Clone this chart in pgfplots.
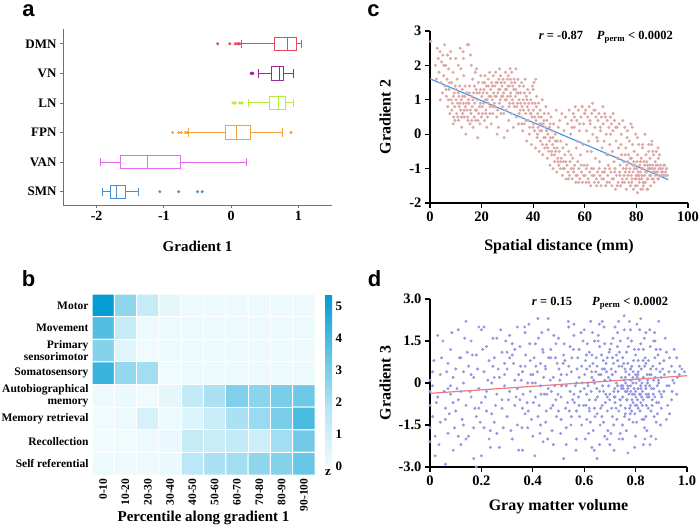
\documentclass[border=0pt]{standalone}
\usepackage{fontspec}
\setmainfont{Liberation Serif}
\newfontfamily\lettersf{Liberation Sans}
\usepackage{pgfplots}
\pgfplotsset{compat=1.18}
\usepgfplotslibrary{statistics}
\definecolor{cDMN}{HTML}{E8475F}
\definecolor{cVN}{HTML}{9A2B9A}
\definecolor{cLN}{HTML}{B5EE3A}
\definecolor{cFPN}{HTML}{F5A03C}
\definecolor{cVAN}{HTML}{E26BF0}
\definecolor{cSMN}{HTML}{4A8FCC}
\definecolor{axgray}{HTML}{707070}
\definecolor{ptC}{RGB}{220,168,168}
\definecolor{lnC}{RGB}{72,152,235}
\definecolor{ptD}{RGB}{150,150,225}
\definecolor{lnD}{RGB}{245,120,120}
\newcommand{\fs}[1]{\bfseries\fontsize{#1}{#1}\selectfont}
\pgfplotstableread{
x y c
0 0 5.3
1 0 2.6
2 0 1.3
3 0 0.3
4 0 0.1
5 0 0.1
6 0 0.1
7 0 0.1
8 0 0.1
9 0 0.1
0 1 3.8
1 1 1.3
2 1 0.1
3 1 0.1
4 1 0.1
5 1 0.1
6 1 0.1
7 1 0.1
8 1 0.1
9 1 0.1
0 2 2.8
1 2 0.5
2 2 0.0
3 2 0.1
4 2 0.1
5 2 0.1
6 2 0.1
7 2 0.1
8 2 0.1
9 2 0.1
0 3 4.3
1 3 2.5
2 3 2.2
3 3 0.0
4 3 0.1
5 3 0.1
6 3 0.1
7 3 0.1
8 3 0.1
9 3 0.1
0 4 0.1
1 4 0.2
2 4 0.0
3 4 0.3
4 4 1.4
5 4 2.0
6 4 2.9
7 4 2.7
8 4 3.0
9 4 3.3
0 5 0.0
1 5 0.1
2 5 0.8
3 5 0.1
4 5 0.6
5 5 1.2
6 5 2.0
7 5 2.4
8 5 3.0
9 5 4.0
0 6 0.0
1 6 0.0
2 6 0.1
3 6 0.2
4 6 1.3
5 6 1.2
6 6 1.4
7 6 1.1
8 6 2.2
9 6 3.2
0 7 0.1
1 7 0.1
2 7 0.1
3 7 0.2
4 7 1.6
5 7 2.0
6 7 2.2
7 7 2.6
8 7 2.8
9 7 3.4
}\heatdata
\begin{document}
\begin{tikzpicture}
\useasboundingbox (0pt,0pt) rectangle (700pt,530pt);
\pgfplotsset{every axis/.append style={scale only axis, /pgf/number format/assume math mode=true}}
% ---------- panel a ----------
\begin{axis}[at={(63pt,325pt)}, anchor=south west, width=269pt, height=176pt,
  xmin=-2.5, xmax=1.5, ymin=0.55, ymax=6.5,
  axis x line*=bottom, axis y line*=left,
  axis line style={-, draw=axgray, line width=0.8pt},
  tick align=outside, major tick length=3pt, tick style={axgray, line width=0.8pt},
  xtick={-2,-1,0,1}, ytick={1,2,3,4,5,6}, yticklabels={SMN,VAN,FPN,LN,VN,DMN},
  xticklabel style={font=\fs{14}}, yticklabel style={font=\fs{13}},
  xlabel={Gradient 1}, xlabel style={font=\fs{15}, at={(axis description cs:0.5,-0.233)}, anchor=center},
  boxplot/draw direction=x, boxplot/box extend=0.45, boxplot/whisker extend=0.28]
\addplot[cDMN, line width=0.9pt, boxplot prepared={draw position=6, lower whisker=0.15, lower quartile=0.64, median=0.84, upper quartile=0.97, upper whisker=1.05}] coordinates {};
\addplot[cVN, line width=0.9pt, boxplot prepared={draw position=5, lower whisker=0.40, lower quartile=0.60, median=0.72, upper quartile=0.78, upper whisker=0.92}] coordinates {};
\addplot[cLN, line width=0.9pt, boxplot prepared={draw position=4, lower whisker=0.26, lower quartile=0.57, median=0.71, upper quartile=0.81, upper whisker=0.93}] coordinates {};
\addplot[cFPN, line width=0.9pt, boxplot prepared={draw position=3, lower whisker=-0.63, lower quartile=-0.08, median=0.08, upper quartile=0.28, upper whisker=0.77}] coordinates {};
\addplot[cVAN, line width=0.9pt, boxplot prepared={draw position=2, lower whisker=-1.94, lower quartile=-1.64, median=-1.25, upper quartile=-0.75, upper whisker=0.23}] coordinates {};
\addplot[cSMN, line width=0.9pt, boxplot prepared={draw position=1, lower whisker=-1.92, lower quartile=-1.80, median=-1.70, upper quartile=-1.57, upper whisker=-1.38}] coordinates {};
\addplot[only marks, mark=*, mark size=1.3pt, cDMN] coordinates {(-0.20,6) (-0.02,6) (0.06,6) (0.09,6) (0.11,6) (0.13,6)};
\addplot[only marks, mark=*, mark size=1.5pt, cVN] coordinates {(0.30,5) (0.32,5)};
\addplot[only marks, mark=*, mark size=1.5pt, cLN] coordinates {(0.03,4) (0.06,4) (0.13,4) (0.16,4)};
\addplot[only marks, mark=*, mark size=1.3pt, cFPN] coordinates {(-0.87,3) (-0.78,3) (-0.74,3) (-0.68,3) (-0.65,3) (0.89,3)};
\addplot[only marks, mark=*, mark size=1.3pt, cSMN] coordinates {(-1.06,1) (-0.78,1) (-0.50,1) (-0.43,1)};
\end{axis}
% ---------- panel b ----------
\begin{axis}[at={(92pt,55pt)}, anchor=south west, width=223pt, height=181pt, clip=false,
  enlargelimits=false, xmin=-0.5, xmax=9.5, ymin=-0.5, ymax=7.5, y dir=reverse,
  axis line style={draw=none}, tick style={draw=none}, major tick length=0pt,
  xtick={0,...,9}, xticklabels={0-10,10-20,20-30,30-40,40-50,50-60,60-70,70-80,80-90,90-100},
  xticklabel style={rotate=90, anchor=east, font=\fs{11.5}},
  ytick={0,...,7}, yticklabels={Motor,Movement,{Primary\\sensorimotor},Somatosensory,{Autobiographical\\memory},Memory retrieval,Recollection,Self referential},
  yticklabel style={align=right, font=\fs{11.5}},
  xlabel={Percentile along gradient 1}, xlabel style={font=\fs{15}, at={(axis description cs:0.5,-0.238)}, anchor=center},
  colormap={heat}{rgb255=(240,251,254) rgb255=(181,229,245) rgb255=(95,195,228) rgb255=(0,155,210)},
  point meta min=0, point meta max=5.4,
  colorbar right,
  colorbar style={width=7pt, height=172pt, at={(1.045,1)}, anchor=north west, ytick={0,1,2,3,4,5},
    yticklabel style={font=\fs{13}}, axis line style={draw=none}, major tick length=0pt,
    /pgf/number format/assume math mode=true}]
\addplot[matrix plot*, mesh/cols=10, point meta=explicit, shader=faceted, faceted color=white, line width=1pt] table[meta=c] {\heatdata};
\node[font=\fs{13}] at (axis description cs:1.058,0.015) {z};
\end{axis}
% ---------- panel c ----------
\begin{axis}[at={(430pt,327pt)}, anchor=south west, width=258pt, height=172pt, clip=false,
  xmin=0, xmax=100, ymin=-2, ymax=3,
  axis x line*=bottom, axis y line*=left, axis line style={-, line width=1.2pt},
  tick align=outside, major tick length=5pt, tick style={black, line width=1.2pt},
  xtick={0,20,40,60,80,100}, ytick={-2,-1,0,1,2,3},
  ticklabel style={font=\fs{14.5}},
  xlabel={Spatial distance (mm)}, xlabel style={font=\fs{16}, at={(axis description cs:0.5,-0.256)}, anchor=center},
  ylabel={Gradient 2}, ylabel style={font=\fs{16}, at={(axis description cs:-0.174,0.5)}, anchor=center}]
\addplot[only marks, mark=*, mark size=1.35pt, ptC, mark options={draw=none, fill=ptC}] coordinates {
(0.3,2.7) (2.1,2.0) (2.8,2.5) (3.2,2.2) (3.5,1.8) (3.9,2.4) (4.2,1.5) (4.5,2.1) (4.8,1.2) (5.0,2.3) (5.3,1.7) (5.6,2.6) (4.0,1.0) (2.5,1.6) (5.8,1.4)
(6.1,2.0) (6.3,1.1) (6.6,1.6) (6.9,0.8) (7.2,1.9) (7.4,1.3) (7.7,0.6) (7.9,2.2) (8.2,1.0) (8.4,1.5) (8.7,0.9) (8.9,1.8) (9.2,0.5) (9.4,1.2) (9.6,0.8) (9.8,1.4) (8.0,2.4) (6.8,2.3) (9.0,0.3)
(10.1,1.0) (10.3,0.6) (10.5,1.6) (10.7,0.9) (10.9,1.2) (11.1,0.4) (11.3,0.8) (11.5,1.4) (11.7,2.5) (11.9,0.7) (12.1,1.0) (12.3,0.2) (12.5,1.3) (12.7,0.6) (12.9,0.9) (13.1,1.7) (13.3,0.5) (13.5,1.1) (13.7,0.8) (13.9,0.0) (14.1,1.2) (14.3,0.7) (14.5,2.6) (14.7,0.4) (14.9,1.0) (11.0,2.0) (12.0,1.9) (13.0,2.2)
(15.1,0.9) (15.3,1.4) (15.5,0.3) (15.7,2.3) (15.9,0.6) (16.1,1.1) (16.3,0.8) (16.5,1.6) (16.7,0.2) (16.9,1.2) (17.1,0.5) (17.3,0.9) (17.5,1.8) (17.7,0.4) (17.9,1.3) (18.1,0.7) (18.3,1.0) (18.5,-0.1) (18.7,1.5) (18.9,0.6) (19.1,1.2) (19.3,0.3) (19.5,0.9) (19.7,1.7) (19.9,0.5) (16.0,2.0) (18.0,1.9)
(20.1,1.1) (20.3,0.6) (20.5,1.5) (20.7,0.9) (20.9,1.3) (21.1,0.4) (21.3,1.7) (21.5,1.0) (21.7,0.7) (21.9,1.4) (22.1,1.2) (22.3,0.5) (22.5,1.6) (22.7,0.9) (22.9,1.1) (23.1,1.8) (23.3,0.8) (23.5,1.3) (23.7,0.3) (23.9,1.5) (24.1,1.0) (24.3,0.6) (24.5,1.7) (24.7,1.2) (24.9,0.9)
(25.1,1.4) (25.3,0.8) (25.5,1.8) (25.7,1.1) (25.9,0.5) (26.1,1.5) (26.3,1.2) (26.5,0.2) (26.7,1.6) (26.9,0.9) (27.1,1.3) (27.3,1.7) (27.5,0.6) (27.7,1.1) (27.9,1.4) (28.1,0.8) (28.3,1.6) (28.5,1.2) (28.7,-0.1) (28.9,1.5) (29.1,1.0) (29.3,1.8) (29.5,0.7) (29.7,1.3) (29.9,1.6)
(30.1,1.1) (30.3,1.7) (30.5,0.4) (30.7,1.4) (30.9,0.9) (31.1,1.6) (31.3,1.2) (31.5,0.6) (31.7,1.8) (31.9,1.0) (32.1,1.4) (32.3,0.2) (32.5,1.3) (32.7,0.8) (32.9,1.5) (33.1,1.1) (33.3,1.9) (33.5,0.5) (33.7,1.2) (33.9,0.9) (34.1,1.6) (34.3,0.3) (34.5,1.0) (34.7,1.4) (34.9,0.7)
(35.1,1.2) (35.3,0.5) (35.5,1.5) (35.7,0.8) (35.9,0.1) (36.1,1.0) (36.3,1.4) (36.5,0.3) (36.7,0.9) (36.9,1.6) (37.1,0.6) (37.3,1.1) (37.5,-0.2) (37.7,0.8) (37.9,1.3) (38.1,0.4) (38.3,0.9) (38.5,0.0) (38.7,1.2) (38.9,0.6) (39.1,1.0) (39.3,-0.3) (39.5,0.5) (39.7,1.4) (39.9,0.2)
(40.1,0.7) (40.3,1.5) (40.5,0.1) (40.7,0.9) (40.9,-0.4) (41.1,0.4) (41.3,1.1) (41.5,-0.1) (41.7,0.6) (41.9,0.2) (42.1,0.9) (42.3,-0.5) (42.5,0.3) (42.7,0.7) (42.9,-0.2) (43.1,0.5) (43.3,0.1) (43.5,1.0) (43.7,-0.6) (43.9,0.3) (44.1,-0.1) (44.3,0.6) (44.5,-0.4) (44.7,0.2) (44.9,0.8)
(45.1,-0.3) (45.3,0.4) (45.5,-0.7) (45.7,0.0) (45.9,0.6) (46.1,-0.5) (46.3,0.2) (46.5,-0.9) (46.7,-0.1) (46.9,0.5) (47.1,-0.6) (47.3,0.1) (47.5,-0.3) (47.7,-1.0) (47.9,0.3) (48.1,-0.4) (48.3,-0.8) (48.5,0.0) (48.7,-0.5) (48.9,0.7) (49.1,-1.1) (49.3,-0.2) (49.5,-0.7) (49.7,0.2) (49.9,-0.9)
(50.1,-0.5) (50.3,0.4) (50.5,-1.0) (50.7,-0.2) (50.9,-0.7) (51.1,0.6) (51.3,-1.2) (51.5,-0.4) (51.7,-0.8) (51.9,0.1) (52.1,-1.0) (52.3,-0.6) (52.5,0.5) (52.7,-1.3) (52.9,-0.3) (53.1,-0.9) (53.3,0.3) (53.5,-1.1) (53.7,-0.5) (53.9,0.7) (54.1,-1.2) (54.3,-0.8) (54.5,0.0) (54.7,-1.0) (54.9,0.4)
(55.1,-1.3) (55.3,-0.7) (55.5,0.6) (55.7,-1.1) (55.9,0.2) (56.1,-0.9) (56.3,0.8) (56.5,-1.4) (56.7,-0.4) (56.9,0.4) (57.1,-1.2) (57.3,-0.8) (57.5,0.7) (57.7,-1.0) (57.9,0.1) (58.1,-1.3) (58.3,-0.6) (58.5,0.5) (58.7,-1.1) (58.9,0.8) (59.1,-1.4) (59.3,-0.3) (59.5,0.3) (59.7,-0.9) (59.9,0.6)
(60.1,-1.2) (60.3,0.7) (60.5,-1.4) (60.7,0.1) (60.9,-0.9) (61.1,0.5) (61.3,-1.3) (61.5,-0.2) (61.7,0.8) (61.9,-1.1) (62.1,0.3) (62.3,-1.5) (62.5,-0.5) (62.7,0.6) (62.9,-1.2) (63.1,0.0) (63.3,-1.0) (63.5,0.7) (63.7,-1.4) (63.9,0.2) (64.1,-0.7) (64.3,0.5) (64.5,-1.3) (64.7,-0.1) (64.9,-1.1)
(65.1,0.4) (65.3,-1.4) (65.5,0.6) (65.7,-0.8) (65.9,-1.2) (66.1,0.1) (66.3,-1.5) (66.5,0.5) (66.7,-0.4) (66.9,-1.1) (67.1,0.3) (67.3,-1.3) (67.5,-0.2) (67.7,0.6) (67.9,-1.0) (68.1,-1.5) (68.3,0.0) (68.5,-0.6) (68.7,0.4) (68.9,-1.2) (69.1,-0.9) (69.3,0.2) (69.5,-1.4) (69.7,-0.3) (69.9,0.5)
(70.1,-1.1) (70.3,0.3) (70.5,-1.5) (70.7,-0.5) (70.9,0.1) (71.1,-1.3) (71.3,-0.8) (71.5,0.4) (71.7,-1.0) (71.9,-1.6) (72.1,-0.2) (72.3,-1.2) (72.5,0.2) (72.7,-0.7) (72.9,-1.4) (73.1,-0.4) (73.3,0.3) (73.5,-1.1) (73.7,-0.9) (73.9,-1.5) (74.1,0.0) (74.3,-0.6) (74.5,-1.3) (74.7,0.4) (74.9,-1.0)
(75.1,-0.8) (75.3,-1.4) (75.5,0.2) (75.7,-1.1) (75.9,-0.4) (76.1,-1.6) (76.3,-0.9) (76.5,0.1) (76.7,-1.2) (76.9,-0.6) (77.1,-1.4) (77.3,-0.2) (77.5,-1.0) (77.7,-1.5) (77.9,0.3) (78.1,-0.7) (78.3,-1.3) (78.5,-0.3) (78.7,-1.1) (78.9,-1.6) (79.1,-0.5) (79.3,-0.9) (79.5,-1.3) (79.7,0.0) (79.9,-1.2) (76.0,-1.0) (78.0,-1.2) (79.0,-0.8)
(80.1,-1.0) (80.3,-1.5) (80.5,-0.6) (80.7,-1.2) (80.9,-0.3) (81.1,-1.4) (81.3,-0.9) (81.5,-1.1) (81.7,-1.6) (81.9,-0.7) (82.1,-1.3) (82.3,-0.4) (82.5,-1.0) (82.7,-1.5) (82.9,-0.8) (83.1,-1.2) (83.3,0.0) (83.5,-1.4) (83.7,-0.6) (83.9,-1.1) (84.1,-1.6) (84.3,-0.9) (84.5,-1.3) (84.7,-0.5) (84.9,-1.0) (81.0,-1.2) (82.0,-1.0) (83.0,-1.4) (84.0,-0.8) (80.0,-1.3)
(85.1,-1.2) (85.3,-0.7) (85.5,-1.5) (85.7,-1.0) (85.9,-0.3) (86.1,-1.3) (86.3,-0.9) (86.5,-1.1) (86.7,-0.6) (86.9,-1.4) (87.1,-1.0) (87.3,-0.8) (87.5,-1.2) (87.7,-0.5) (87.9,-1.1) (88.1,-0.9) (88.3,-1.3) (88.5,-0.7) (88.7,-1.0) (88.9,-1.2) (89.3,-0.9) (89.7,-1.1) (90.1,-1.0) (90.5,-1.2) (90.9,-0.9) (91.3,-1.1) (91.7,-1.0) (92.0,-1.2) (89.0,-0.6) (86.0,-0.2)
(8.5,0.7) (9.1,1.1) (9.7,0.4) (10.2,1.3) (10.8,0.5) (11.2,1.1) (11.6,0.9) (12.2,0.5) (12.6,1.1) (13.2,0.7) (13.6,1.4) (14.2,0.9) (14.6,0.5) (15.2,1.2) (15.6,0.7) (16.2,0.4) (16.6,1.0) (17.2,1.4) (17.6,0.7) (18.2,1.2) (18.6,0.4) (19.2,0.8) (19.6,1.3) (7.1,1.0) (7.6,1.5) (6.2,1.3) (5.4,2.0) (10.0,2.2) (12.8,2.4) (15.0,2.6)
(20.2,0.8) (20.6,1.2) (21.2,1.5) (21.6,0.6) (22.2,1.0) (22.6,1.4) (23.2,0.6) (23.6,1.1) (24.2,1.4) (24.6,0.8) (25.2,1.1) (25.6,1.5) (26.2,0.7) (26.6,1.3) (27.2,1.0) (27.6,1.5) (28.2,1.1) (28.6,0.6) (29.2,1.3) (29.6,1.0) (30.2,1.4) (30.6,0.8) (31.2,1.1) (31.6,1.5) (32.2,0.9) (32.6,1.6) (33.2,1.3) (33.6,0.8) (34.2,1.2) (34.6,0.6) (22.0,0.2) (26.0,0.0) (30.0,0.1) (31.0,1.9) (27.0,1.9)
(35.2,0.9) (35.6,0.3) (36.2,0.7) (36.6,1.2) (37.2,0.4) (37.6,1.0) (38.2,0.7) (38.6,0.2) (39.2,0.6) (39.6,0.9) (40.2,0.3) (40.6,0.5) (41.2,0.8) (41.6,0.0) (42.2,0.5) (42.6,0.1) (43.2,0.3) (43.6,-0.3) (44.2,0.4) (44.6,-0.1) (45.2,0.1) (45.6,-0.4) (46.2,-0.2) (46.6,0.3) (47.2,-0.5) (47.6,-0.1) (48.2,-0.6) (48.6,-0.2) (49.2,-0.4) (49.6,-0.8) (41.0,1.6) (40.0,1.3)
(50.6,-0.8) (51.6,-1.0) (52.6,-0.8) (53.6,-1.3) (54.6,-0.6) (55.6,-1.0) (56.6,-1.2) (57.6,-1.4) (58.6,-0.9) (59.6,-1.2) (60.6,-1.0) (61.6,-1.4) (62.6,-1.0) (63.6,-1.2) (64.6,-1.5) (65.6,-1.0) (66.6,-1.3) (67.6,-1.1) (68.6,-1.4) (69.6,-1.0) (70.6,-1.3) (71.6,-1.1) (72.6,-1.5) (73.6,-1.2) (74.6,-1.4)
(56.0,0.5) (58.0,0.3) (60.0,0.6) (62.0,0.4) (64.0,0.7) (66.0,0.2) (68.0,0.5) (70.0,0.0) (72.0,0.2) (74.0,-0.3) (57.0,-0.2) (61.0,-0.5) (65.0,-0.2) (69.0,-0.6) (73.0,-0.7) (59.0,0.8) (63.0,0.9) (67.0,0.8) (71.0,0.6) (55.0,0.2)
(75.2,-1.2) (75.6,-0.6) (76.2,-1.3) (76.6,-0.8) (77.2,-1.1) (77.6,-0.7) (78.2,-1.4) (78.6,-0.9) (79.2,-1.0) (79.6,-1.5) (80.2,-0.8) (80.6,-1.1) (81.2,-1.3) (81.6,-0.8) (82.2,-1.2) (82.6,-1.4) (83.2,-0.9) (83.6,-1.1) (84.2,-1.3) (84.6,-1.0) (85.2,-0.9) (85.6,-1.2) (86.2,-1.0) (86.6,-1.3) (87.2,-1.1) (87.6,-0.9) (88.2,-1.1) (88.6,-1.3) (89.2,-1.0) (89.6,-1.2) (90.2,-1.1) (90.6,-0.9) (91.2,-1.2) (91.6,-1.0) (80.4,-1.7) (82.4,-1.6) (84.4,-1.6) (76.4,-0.1) (78.4,0.2) (80.4,-0.1) (82.4,-0.3) (86.4,-0.5) (84.8,-0.3) (88.4,-0.4)
};
\addplot[lnC, line width=1.2pt] coordinates {(0,1.61) (92.3,-1.32)};
\node[anchor=north east, font=\fs{12.5}] at (rel axis cs:0.955,1.02) {\textit{r} = -0.87\hspace{1.1em}\textit{P}\textsubscript{perm} < 0.0002};
\end{axis}
% ---------- panel d ----------
\begin{axis}[at={(430pt,63pt)}, anchor=south west, width=257pt, height=168pt, clip=false,
  xmin=0, xmax=1, ymin=-3, ymax=3,
  axis x line*=bottom, axis y line*=left, axis line style={-, line width=1.2pt},
  tick align=outside, major tick length=5pt, tick style={black, line width=1.2pt},
  xtick={0,0.2,0.4,0.6,0.8,1}, xticklabels={0,0.2,0.4,0.6,0.8,1.0},
  ytick={-3,-1.5,0,1.5,3}, yticklabels={-3.0,-1.5,0,1.5,3.0},
  ticklabel style={font=\fs{14.5}},
  xlabel={Gray matter volume}, xlabel style={font=\fs{16}, at={(axis description cs:0.5,-0.238)}, anchor=center},
  ylabel={Gradient 3}, ylabel style={font=\fs{16}, at={(axis description cs:-0.175,0.5)}, anchor=center}]
\addplot[only marks, mark=*, mark size=1.3pt, ptD, mark options={draw=none, fill=ptD}] coordinates {
(0.00,-2.1) (0.00,-1.6) (0.00,-0.8) (0.00,-0.3) (0.00,0.1) (0.01,-1.2) (0.01,0.4) (0.02,-2.6) (0.03,1.7) (0.03,-0.5) (0.04,0.3) (0.02,-1.9) (0.04,-1.4) (0.01,-0.1)
(0.05,1.5) (0.06,-2.9) (0.06,-0.9) (0.07,0.7) (0.07,-1.8) (0.08,1.2) (0.08,-0.4) (0.09,-2.4) (0.09,0.2) (0.06,-1.3) (0.08,-0.1) (0.095,-1.6)
(0.10,0.5) (0.10,-1.0) (0.11,1.9) (0.11,-0.6) (0.12,-2.2) (0.12,0.9) (0.13,-1.5) (0.13,0.0) (0.14,2.2) (0.14,-0.8) (0.12,-0.3) (0.145,1.1) (0.11,-1.9)
(0.15,-1.9) (0.15,0.6) (0.16,1.5) (0.16,-0.5) (0.17,-2.7) (0.17,0.2) (0.18,-1.2) (0.18,1.0) (0.19,-0.2) (0.19,2.0) (0.17,-1.6) (0.19,-0.9) (0.16,0.3) (0.18,-3.0)
(0.20,-0.7) (0.20,1.9) (0.21,0.4) (0.21,-1.6) (0.22,-0.3) (0.22,1.3) (0.23,-2.0) (0.23,0.8) (0.24,-1.1) (0.24,0.0) (0.21,2.0) (0.235,-1.7) (0.245,0.6) (0.20,-2.6)
(0.25,0.9) (0.25,-1.4) (0.26,1.6) (0.26,-0.4) (0.27,0.2) (0.27,-2.3) (0.28,1.1) (0.28,-0.9) (0.29,-0.1) (0.29,0.7) (0.26,-1.8) (0.28,-0.6) (0.295,1.5)
(0.30,-1.2) (0.30,0.5) (0.31,1.7) (0.31,-0.3) (0.32,-2.0) (0.32,1.0) (0.33,0.1) (0.33,-0.8) (0.34,2.0) (0.34,-1.5) (0.31,0.9) (0.335,-0.5) (0.345,0.3) (0.32,1.4)
(0.35,-0.6) (0.35,1.3) (0.36,-2.4) (0.36,0.4) (0.37,-1.1) (0.37,1.8) (0.38,0.0) (0.38,-1.6) (0.39,0.8) (0.39,-0.3) (0.36,-0.9) (0.37,0.6) (0.385,2.1) (0.395,-1.3) (0.355,0.1)
(0.40,0.3) (0.40,-1.9) (0.41,1.4) (0.41,-0.5) (0.42,2.3) (0.42,-1.2) (0.43,0.7) (0.43,-0.1) (0.44,-2.1) (0.44,1.1) (0.41,0.0) (0.425,-0.8) (0.435,1.8) (0.445,-0.4) (0.405,0.9) (0.43,-1.5)
(0.45,0.5) (0.45,-1.4) (0.46,1.9) (0.46,-0.2) (0.47,-0.9) (0.47,0.9) (0.48,-2.2) (0.48,0.2) (0.49,1.4) (0.49,-0.6) (0.46,2.3) (0.475,-1.7) (0.485,-0.1) (0.495,0.7) (0.455,-0.4) (0.47,1.2)
(0.50,-1.0) (0.50,1.6) (0.51,0.3) (0.51,-0.5) (0.52,-2.7) (0.52,1.0) (0.53,-0.1) (0.53,-1.6) (0.54,2.0) (0.54,0.6) (0.51,-1.3) (0.525,0.8) (0.535,-0.7) (0.545,1.3) (0.505,0.1) (0.53,-2.2) (0.545,-0.3)
(0.55,0.4) (0.55,-1.2) (0.56,1.7) (0.56,-0.4) (0.57,0.0) (0.57,-2.0) (0.58,1.2) (0.58,-0.8) (0.59,0.6) (0.59,-1.5) (0.56,2.1) (0.565,-0.1) (0.575,0.9) (0.585,-0.3) (0.595,1.5) (0.555,-0.6) (0.58,0.2) (0.57,-1.0)
(0.60,-0.2) (0.60,1.9) (0.61,0.5) (0.61,-1.3) (0.62,-0.6) (0.62,1.1) (0.63,-2.3) (0.63,0.2) (0.64,1.5) (0.64,-0.9) (0.605,0.8) (0.615,-0.1) (0.625,2.2) (0.635,-1.7) (0.645,0.4) (0.61,-0.4) (0.63,1.0) (0.64,0.0) (0.62,-1.0) (0.65,-2.7)
(0.65,0.6) (0.65,-1.1) (0.66,1.3) (0.66,-0.3) (0.67,2.2) (0.67,-0.8) (0.68,0.1) (0.68,-1.9) (0.69,0.9) (0.69,-0.5) (0.655,1.7) (0.665,0.3) (0.675,-1.4) (0.685,0.7) (0.695,-0.1) (0.66,-2.2) (0.67,0.5) (0.68,1.4) (0.69,-1.0) (0.675,-0.3)
(0.70,-0.4) (0.70,1.2) (0.71,0.3) (0.71,-1.2) (0.72,2.0) (0.72,-0.7) (0.73,0.8) (0.73,-0.1) (0.74,-1.8) (0.74,1.5) (0.705,0.5) (0.715,-0.3) (0.725,1.0) (0.735,-1.0) (0.745,0.2) (0.70,-2.2) (0.71,0.9) (0.72,-0.5) (0.73,1.8) (0.74,-0.6) (0.725,0.0) (0.735,0.6) (0.715,-1.5) (0.745,-0.2) (0.705,1.4)
(0.75,-0.5) (0.75,0.9) (0.76,-1.1) (0.76,0.2) (0.77,-0.2) (0.77,1.6) (0.78,-0.8) (0.78,0.5) (0.79,-1.4) (0.79,0.0) (0.755,2.4) (0.765,-0.6) (0.775,0.3) (0.785,-1.0) (0.795,1.2) (0.75,-2.0) (0.76,-0.3) (0.77,0.7) (0.78,-0.1) (0.79,-0.7) (0.755,0.1) (0.765,1.1) (0.775,-1.3) (0.785,0.6) (0.795,-0.4) (0.77,-2.5) (0.78,1.9) (0.76,-0.9) (0.79,0.4) (0.75,-0.1)
(0.80,-0.3) (0.80,1.0) (0.81,-0.9) (0.81,0.4) (0.82,-0.1) (0.82,1.4) (0.83,-0.6) (0.83,0.2) (0.84,-1.2) (0.84,0.7) (0.805,2.1) (0.815,-0.4) (0.825,0.0) (0.835,-1.6) (0.845,0.3) (0.80,-1.9) (0.81,0.8) (0.82,-0.7) (0.83,1.2) (0.84,-0.2) (0.805,-0.8) (0.815,0.1) (0.825,-1.3) (0.835,0.6) (0.845,-0.5) (0.82,2.3) (0.83,-2.2) (0.81,-0.2) (0.84,1.8) (0.80,0.3)
(0.85,-0.4) (0.85,0.8) (0.86,-1.0) (0.86,0.3) (0.87,1.5) (0.87,-0.2) (0.88,-1.4) (0.88,0.5) (0.89,0.0) (0.89,-0.7) (0.855,1.9) (0.865,-0.6) (0.875,0.9) (0.885,-1.1) (0.895,0.4) (0.86,-1.9) (0.87,0.1) (0.88,1.2) (0.855,-0.1) (0.875,-0.5) (0.89,2.2)
(0.90,0.2) (0.90,-0.9) (0.91,0.8) (0.91,-0.3) (0.92,1.1) (0.92,-1.3) (0.93,0.4) (0.93,-0.1) (0.94,0.6) (0.94,-0.6) (0.95,1.2) (0.95,0.0) (0.96,-0.4) (0.97,0.3) (0.98,0.5) (0.99,0.4) (0.905,0.5) (0.925,-0.8) (0.945,0.1) (0.96,0.9)
(0.015,0.8) (0.025,-0.7) (0.035,-2.2) (0.045,0.9) (0.055,-0.3) (0.065,0.4) (0.075,-1.1) (0.085,1.8) (0.09,-0.7) (0.105,-0.2) (0.115,0.9) (0.125,-1.3) (0.135,1.6) (0.14,-2.0) (0.155,-0.3) (0.165,1.0) (0.175,-0.9) (0.185,0.5) (0.195,-1.4) (0.205,1.2) (0.215,-0.5) (0.225,0.1) (0.235,-2.3) (0.245,1.6) (0.255,-0.8) (0.265,0.5) (0.275,1.9) (0.285,-1.6) (0.29,0.3) (0.305,-0.6) (0.315,-1.7) (0.325,0.7) (0.33,1.2) (0.34,-0.2) (0.345,-2.4) (0.07,-0.2) (0.13,0.4) (0.22,-1.0) (0.3,1.1) (0.25,0.2)
(0.352,0.6) (0.362,-0.4) (0.372,1.0) (0.382,-1.0) (0.392,0.3) (0.402,-0.7) (0.412,0.6) (0.422,1.6) (0.432,-0.4) (0.442,0.2) (0.452,-1.0) (0.462,0.9) (0.472,-0.3) (0.482,1.7) (0.492,-1.2) (0.502,0.5) (0.512,-0.1) (0.522,1.4) (0.532,0.3) (0.542,-1.0) (0.552,0.9) (0.562,-0.7) (0.572,0.5) (0.582,-1.2) (0.592,0.0) (0.358,-1.6) (0.368,2.0) (0.378,-0.7) (0.388,1.4) (0.398,0.0) (0.408,-2.6) (0.418,0.4) (0.428,-1.8) (0.438,1.2) (0.448,0.6) (0.458,-2.0) (0.468,0.1) (0.478,-0.8) (0.488,0.9) (0.498,-0.4) (0.508,-1.8) (0.518,0.7) (0.528,-0.9) (0.538,2.2) (0.548,-1.5) (0.558,1.2) (0.568,-2.4) (0.578,-0.5) (0.588,1.8) (0.598,-0.8)
(0.602,0.3) (0.607,-0.8) (0.612,1.4) (0.617,-1.8) (0.622,0.6) (0.627,-0.3) (0.632,1.8) (0.637,0.1) (0.642,-1.2) (0.647,0.9) (0.652,-0.5) (0.657,0.3) (0.662,-1.5) (0.667,1.0) (0.672,-0.1) (0.677,2.0) (0.682,-0.7) (0.687,0.4) (0.692,-1.7) (0.697,1.1) (0.604,-2.0) (0.614,0.0) (0.624,-1.4) (0.634,0.7) (0.644,-0.6) (0.654,1.5) (0.664,-0.9) (0.674,0.8) (0.684,-0.4) (0.694,0.2) (0.609,1.0) (0.619,-0.9) (0.629,0.4) (0.639,-2.4) (0.649,-0.2) (0.659,2.1) (0.669,-1.2) (0.679,0.5) (0.689,-2.0) (0.699,-0.6)
(0.702,0.1) (0.707,-0.9) (0.712,1.6) (0.717,-0.5) (0.722,0.4) (0.727,-1.3) (0.732,-0.3) (0.737,1.1) (0.742,-0.8) (0.747,0.6) (0.752,-0.2) (0.757,-1.2) (0.762,0.4) (0.767,-0.6) (0.772,1.3) (0.777,-0.9) (0.782,0.1) (0.787,-0.4) (0.792,0.8) (0.797,-1.1) (0.802,0.0) (0.807,-0.6) (0.812,1.2) (0.817,-1.0) (0.822,0.5) (0.827,-0.3) (0.832,-1.3) (0.837,0.9) (0.842,-0.8) (0.847,0.1) (0.852,-0.5) (0.857,1.3) (0.862,-0.2) (0.867,0.6) (0.872,-1.2) (0.877,0.2) (0.882,-0.7) (0.887,1.0) (0.892,-0.3) (0.897,-1.5)
(0.704,-1.8) (0.714,0.7) (0.724,-0.9) (0.734,2.2) (0.744,-0.1) (0.754,0.7) (0.764,-1.7) (0.774,-0.4) (0.784,1.5) (0.794,-0.2) (0.804,-1.4) (0.814,0.6) (0.824,-0.5) (0.834,1.6) (0.844,-1.7) (0.854,0.3) (0.864,-0.8) (0.874,1.8) (0.884,-0.1) (0.894,0.7)
(0.709,0.3) (0.719,-0.2) (0.729,1.3) (0.739,-0.6) (0.749,-1.5) (0.759,0.5) (0.769,-0.1) (0.779,-1.1) (0.789,0.2) (0.799,-0.8) (0.809,0.3) (0.819,-0.4) (0.829,0.8) (0.839,-0.1) (0.849,-0.9) (0.859,0.5) (0.869,-0.4) (0.879,-2.0) (0.889,0.1) (0.899,-0.4)
(0.716,-2.4) (0.736,-2.0) (0.756,1.9) (0.776,2.2) (0.796,-2.3) (0.816,1.9) (0.836,-2.0) (0.856,-2.2) (0.876,1.5) (0.896,1.2) (0.766,-0.3) (0.786,-0.6) (0.806,0.2) (0.826,-0.8) (0.846,0.0) (0.761,0.0) (0.781,-0.3) (0.801,-0.5) (0.821,-0.2) (0.841,-0.4)
(0.902,-0.5) (0.912,0.3) (0.922,-0.1) (0.932,0.9) (0.942,-0.3) (0.952,0.4) (0.962,0.2) (0.972,0.6) (0.932,-1.1) (0.915,1.6)
};
\addplot[lnD, line width=1.2pt] coordinates {(0,-0.37) (1,0.26)};
\node[anchor=north east, font=\fs{12.5}] at (rel axis cs:0.94,1.03) {\textit{r} = 0.15\hspace{1.6em}\textit{P}\textsubscript{perm} < 0.0002};
\end{axis}
% ---------- panel letters ----------
\node[anchor=base, inner sep=0pt, font=\lettersf\bfseries\fontsize{22}{22}\selectfont] at (28.5pt,513pt) {a};
\node[anchor=base, inner sep=0pt, font=\lettersf\bfseries\fontsize{22}{22}\selectfont] at (28.5pt,243pt) {b};
\node[anchor=base, inner sep=0pt, font=\lettersf\bfseries\fontsize{22}{22}\selectfont] at (373.5pt,513pt) {c};
\node[anchor=base, inner sep=0pt, font=\lettersf\bfseries\fontsize{22}{22}\selectfont] at (374.5pt,243pt) {d};
\end{tikzpicture}
\end{document}
